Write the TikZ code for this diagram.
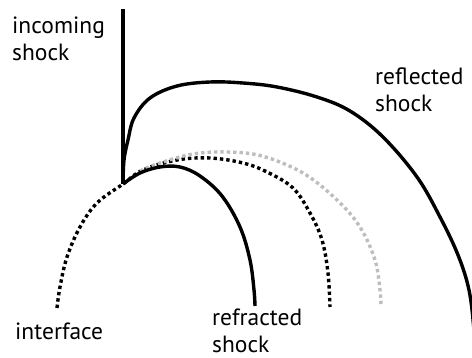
\documentclass[tikz,border=0pt]{standalone}
\usepackage{fontspec}
\setmainfont{PT Sans}
\definecolor{lightdots}{RGB}{190,190,190}
\tikzset{
  shockline/.style={line width=3.4pt, black},
  dotline/.style={line width=3.4pt, dash pattern=on 3.4pt off 3pt, line cap=butt},
  textlabel/.style={anchor=base west, inner sep=0pt, align=left, font=\fontsize{23.5}{27}\selectfont}
}
\begin{document}
\begin{tikzpicture}[x=1pt,y=-1pt]
\useasboundingbox (0,0) rectangle (472,358);
\clip (0,0) rectangle (472,358);
% interface (black dotted)
\draw[dotline, black] plot[smooth, tension=0.6] coordinates {(57,308) (60,287) (67,257) (80,227) (97,203) (123,184) (143,170) (177,160) (210,158) (243,163) (267,172) (293,188) (310,213) (322,240) (328,273) (330,307)};
% gray dotted
\draw[dotline, lightdots] plot[smooth, tension=0.6] coordinates {(140,171) (160,163) (193,154) (227,152) (262,156) (303,173) (337,200) (360,227) (375,260) (380,290) (381,307)};
% incoming shock
\coordinate (top) at (123,9);
\coordinate (junction) at (123,184);
\draw[shockline] (top) -- (junction);
% reflected shock
\draw[shockline, line join=round] plot[smooth, tension=0.6] coordinates {(123,184) (124,160) (128,140) (134,118) (150,98) (177,86) (210,82) (243,83) (277,87) (317,97) (350,111) (383,137) (417,177) (440,217) (458,255) (469,290) (474,330) (476,362)};
% refracted shock
\draw[shockline] plot[smooth, tension=0.6] coordinates {(123,184) (140,173) (160,167) (180,167) (200,176) (222,196) (240,227) (250,260) (254,290) (255,306)};
% labels
\node[textlabel] (incoming) at (12,61) {incoming\\shock};
\node[textlabel] (reflected) at (375,112) {reflected\\shock};
\node[textlabel] (interface) at (15,340) {interface};
\node[textlabel] (refracted) at (212,353) {refracted\\shock};
\end{tikzpicture}
\end{document}
